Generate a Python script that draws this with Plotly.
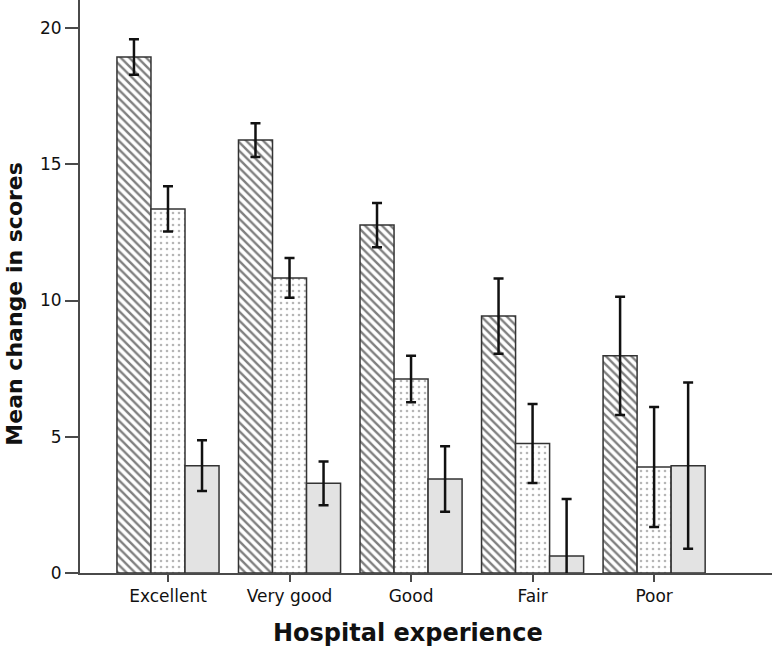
import plotly.graph_objects as go

CATEGORIES = ["Excellent", "Very good", "Good", "Fair", "Poor"]

HATCHED_MEAN = [18.94, 15.89, 12.77, 9.43, 7.97]
HATCHED_ERR = [0.65, 0.62, 0.81, 1.38, 2.17]

DOTTED_MEAN = [13.36, 10.83, 7.12, 4.75, 3.89]
DOTTED_ERR = [0.83, 0.73, 0.85, 1.45, 2.2]

GREY_MEAN = [3.94, 3.29, 3.45, 0.62, 3.94]
GREY_ERR = [0.93, 0.8, 1.2, 2.1, 3.05]

Y_TICKS = [0, 5, 10, 15, 20]

OUTLINE = "#333333"
AXIS_COLOR = "#4a4a4a"
ERROR_STYLE = {"type": "data", "color": "#111111", "thickness": 2.5, "width": 5}


def _bar(name, values, errors, pattern, fill):
    return go.Bar(
        x=CATEGORIES,
        y=values,
        name=name,
        error_y={**ERROR_STYLE, "array": errors},
        marker={
            "color": fill,
            "line": {"color": OUTLINE, "width": 1.5},
            "pattern": pattern,
        },
        showlegend=False,
    )


fig = go.Figure()
fig.add_trace(
    _bar(
        "Hatched",
        HATCHED_MEAN,
        HATCHED_ERR,
        {"shape": "\\", "size": 6, "solidity": 0.4, "fgcolor": "#000000", "bgcolor": "white"},
        "white",
    )
)
fig.add_trace(
    _bar(
        "Dotted",
        DOTTED_MEAN,
        DOTTED_ERR,
        {"shape": ".", "size": 6, "solidity": 0.15, "fgcolor": "#6e6e6e", "bgcolor": "white"},
        "white",
    )
)
fig.add_trace(_bar("Grey", GREY_MEAN, GREY_ERR, {"shape": ""}, "#e3e3e3"))

fig.update_layout(
    width=774,
    height=646,
    barmode="group",
    bargap=0.16,
    bargroupgap=0,
    plot_bgcolor="white",
    paper_bgcolor="white",
    margin={"l": 80, "r": 2, "t": 0, "b": 73},
    font={"family": "DejaVu Sans, Verdana, sans-serif", "color": "#111111", "size": 17},
    annotations=[
        {
            "text": "<b>Mean change in scores</b>",
            "xref": "paper",
            "yref": "paper",
            "x": -0.094,
            "y": 0.47,
            "xanchor": "center",
            "yanchor": "middle",
            "textangle": -90,
            "showarrow": False,
            "font": {"family": "Liberation Sans Narrow, Arial Narrow, DejaVu Sans, sans-serif", "size": 22},
        },
        {
            "text": "<b>Hospital experience</b>",
            "xref": "paper",
            "yref": "paper",
            "x": 0.474,
            "y": -0.105,
            "xanchor": "center",
            "yanchor": "middle",
            "showarrow": False,
            "font": {"family": "DejaVu Sans, Verdana, sans-serif", "size": 24},
        },
    ],
)
fig.update_xaxes(
    type="category",
    range=[-0.724, 4.97],
    showline=True,
    linecolor=AXIS_COLOR,
    linewidth=2,
    ticks="outside",
    ticklen=7,
    tickwidth=2,
    tickcolor=AXIS_COLOR,
    showgrid=False,
)
fig.update_yaxes(
    range=[0, 21.03],
    tickvals=Y_TICKS,
    showline=True,
    linecolor=AXIS_COLOR,
    linewidth=2,
    ticks="outside",
    ticklen=13,
    tickwidth=2,
    tickcolor=AXIS_COLOR,
    showgrid=False,
    zeroline=False,
)

fig.write_html(
    "out.html",
    config={"displayModeBar": False},
    post_script="document.body.style.margin = '0';",
)
